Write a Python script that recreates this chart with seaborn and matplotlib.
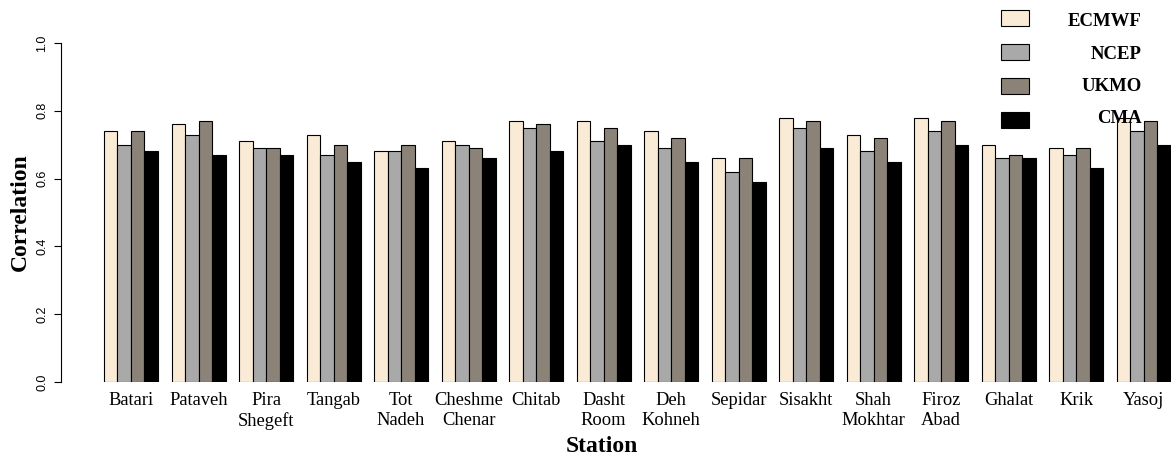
import matplotlib
matplotlib.use("Agg")
import matplotlib.pyplot as plt
import numpy as np
import pandas as pd
import seaborn as sns

# Station names (two-line names wrap onto a second line)
stations = ["Batari", "Pataveh", "Pira\nShegeft", "Tangab", "Tot\nNadeh",
            "Cheshme\nChenar", "Chitab", "Dasht\nRoom", "Deh\nKohneh", "Sepidar",
            "Sisakht", "Shah\nMokhtar", "Firoz\nAbad", "Ghalat", "Krik", "Yasoj"]
models = ["ECMWF", "NCEP", "UKMO", "CMA"]

# Correlation of each forecast model per station
ecmwf = [0.74, 0.76, 0.71, 0.73, 0.68, 0.71, 0.77, 0.77, 0.74, 0.66, 0.78, 0.73, 0.78, 0.70, 0.69, 0.78]
ncep = [0.70, 0.73, 0.69, 0.67, 0.68, 0.70, 0.75, 0.71, 0.69, 0.62, 0.75, 0.68, 0.74, 0.66, 0.67, 0.74]
ukmo = [0.74, 0.77, 0.69, 0.70, 0.70, 0.69, 0.76, 0.75, 0.72, 0.66, 0.77, 0.72, 0.77, 0.67, 0.69, 0.77]
cma = [0.68, 0.67, 0.67, 0.65, 0.63, 0.66, 0.68, 0.70, 0.65, 0.59, 0.69, 0.65, 0.70, 0.66, 0.63, 0.70]

yticks = [0.0, 0.2, 0.4, 0.6, 0.8, 1.0]
colors = ["#FAEBD7", "#A9A9A9", "#8B8378", "#000000"]

df = pd.DataFrame({
    "Station": stations * 4,
    "Model": [m for m in models for _ in stations],
    "Correlation": ecmwf + ncep + ukmo + cma,
})

sns.set_theme(style="ticks")
plt.rcParams["font.family"] = ["Liberation Serif", "DejaVu Serif"]
plt.rcParams.update({"text.color": "black", "axes.labelcolor": "black",
                     "xtick.color": "black", "ytick.color": "black",
                     "axes.edgecolor": "black"})

W, H = 1171, 459
fig = plt.figure(figsize=(W / 100, H / 100), dpi=100)
ax = fig.add_axes([61 / W, 77 / H, 1110 / W, 339 / H])

sns.barplot(data=df, x="Station", y="Correlation", hue="Model",
            order=stations, hue_order=models, palette=colors,
            errorbar=None, width=0.8, edgecolor="black", linewidth=0.8,
            saturation=1, ax=ax)

handles, labels = ax.get_legend_handles_labels()
ax.get_legend().remove()

ax.set_xlim(-1.037, 15.407)
ax.set_ylim(0, 1)
ax.set_yticks(yticks)
ax.set_yticklabels([f"{v:.1f}" for v in yticks], family="Liberation Sans", fontsize=9)
ax.tick_params(axis="y", labelrotation=90, length=5, width=0.8, pad=4.3,
               color="black", labelcolor="black", direction="out", left=True)
ax.tick_params(axis="x", length=0, pad=7.5, labelsize=13.3, labelcolor="black")
for t in ax.get_yticklabels():
    t.set_va("center")

sns.despine(ax=ax, top=True, right=True, bottom=True)
ax.spines["left"].set_color("black")
ax.spines["left"].set_linewidth(0.8)

ax.set_xlabel("Station", fontsize=17, fontweight="bold", color="black")
ax.xaxis.set_label_coords((602 - 61) / 1110, (382 - 447) / 339)
ax.xaxis.label.set_va("center")
ax.set_ylabel("Correlation", fontsize=17, fontweight="bold", color="black")
ax.yaxis.set_label_coords((20 - 61) / 1110, 0.5)
ax.yaxis.label.set_va("center")

fs = 13.5
leg = fig.legend(handles, labels, loc="upper left",
                 bbox_to_anchor=(1001 / W, 1 - 10 / H), bbox_transform=fig.transFigure,
                 frameon=False, borderpad=0, borderaxespad=0,
                 handlelength=20.2 / fs, handleheight=12.2 / fs,
                 handletextpad=28 / fs, labelspacing=11.4 / fs,
                 prop=dict(family="Liberation Serif", weight="bold", size=fs))
for h in leg.legend_handles:
    h.set_edgecolor("black")
    h.set_linewidth(0.8)
for t in leg.get_texts():
    t.set_color("black")

# right-align the legend labels and tighten their vertical spacing
fig.canvas.draw()
renderer = fig.canvas.get_renderer()
widths = [t.get_window_extent(renderer).width for t in leg.get_texts()]
wmax = max(widths)
lifts = [-2.0, -0.8, 1.4, 3.6]
for t, w, dy in zip(leg.get_texts(), widths, lifts):
    t.set_position((wmax - w, dy))

fig.savefig("out.png", dpi=100)
